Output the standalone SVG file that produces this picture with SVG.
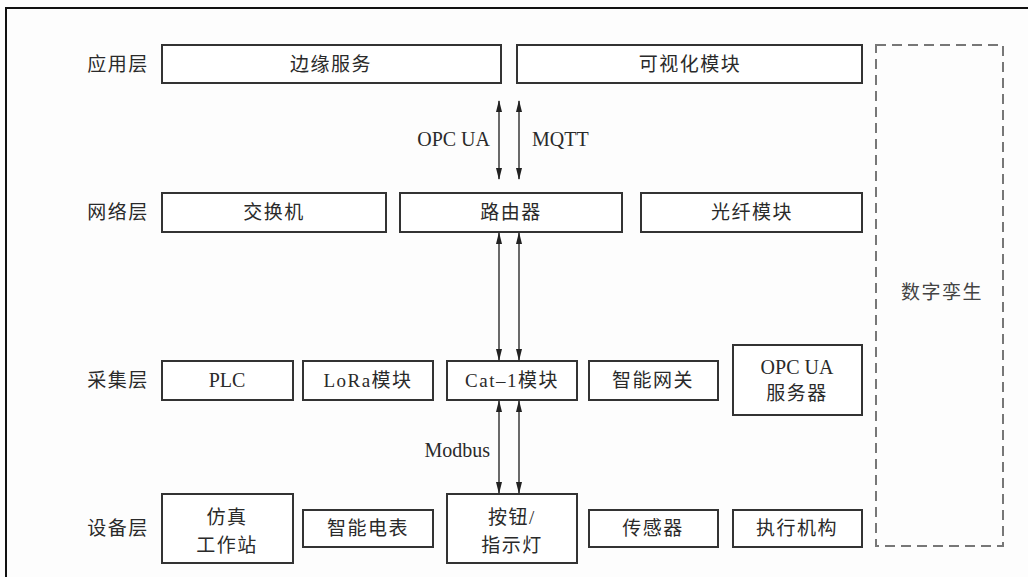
<svg xmlns="http://www.w3.org/2000/svg" width="1028" height="577" viewBox="0 0 1028 577">
  <defs>
    <style>
      .bg { fill: #fdfdfd; }
      .frame { fill: none; stroke: #111; stroke-width: 2; }
      .box { fill: #ffffff; stroke: #333; stroke-width: 2; }
      .dash { fill: none; stroke: #777; stroke-width: 2; stroke-dasharray: 10 6; }
      .t { font-family: "Liberation Serif", "Noto Sans CJK SC", serif; font-size: 19px; fill: #2a2a2a; text-anchor: middle; dominant-baseline: central; letter-spacing: 1.5px; }
      .lat { font-family: "Liberation Serif", "Noto Sans CJK SC", serif; font-size: 20px; fill: #2a2a2a; dominant-baseline: central; }
      .conn { stroke: #444; stroke-width: 1.6; fill: none; marker-start: url(#ah); marker-end: url(#ah); }
    </style>
    <marker id="ah" viewBox="0 0 12 6" refX="11" refY="3" markerWidth="12" markerHeight="6" markerUnits="userSpaceOnUse" orient="auto-start-reverse">
      <path d="M0,0 L12,3 L0,6 Z" fill="#222"/>
    </marker>
  </defs>

  <rect class="bg" x="0" y="0" width="1028" height="577"/>
  <rect class="frame" x="6" y="8" width="1040" height="600"/>

  <g id="layer-labels">
    <text class="t" x="118" y="64">应用层</text>
    <text class="t" x="118" y="212">网络层</text>
    <text class="t" x="118" y="380">采集层</text>
    <text class="t" x="118" y="528">设备层</text>
  </g>

  <g id="edge-service"><rect class="box" x="162" y="45" width="339" height="38"/><text class="t" x="331" y="64">边缘服务</text></g>
  <g id="visual-module"><rect class="box" x="517" y="45" width="345" height="38"/><text class="t" x="690" y="64">可视化模块</text></g>

  <g id="switch"><rect class="box" x="162" y="193" width="224" height="39"/><text class="t" x="274" y="212">交换机</text></g>
  <g id="router"><rect class="box" x="400" y="193" width="222" height="39"/><text class="t" x="511" y="212">路由器</text></g>
  <g id="fiber-module"><rect class="box" x="641" y="193" width="221" height="39"/><text class="t" x="752" y="212">光纤模块</text></g>

  <g id="plc"><rect class="box" x="162" y="361" width="131" height="39"/><text class="lat" x="227" y="380" text-anchor="middle">PLC</text></g>
  <g id="lora"><rect class="box" x="303" y="361" width="130" height="39"/><text class="t" x="368" y="380" letter-spacing="0">LoRa模块</text></g>
  <g id="cat1"><rect class="box" x="447" y="361" width="130" height="39"/><text class="t" x="512" y="380" letter-spacing="0">Cat–1模块</text></g>
  <g id="gateway"><rect class="box" x="589" y="361" width="129" height="39"/><text class="t" x="653" y="380">智能网关</text></g>
  <g id="opcua-server"><rect class="box" x="733" y="345" width="129" height="70"/><text class="lat" x="797" y="367" text-anchor="middle">OPC UA</text><text class="t" x="797" y="393">服务器</text></g>

  <g id="sim-station"><rect class="box" x="162" y="494" width="131" height="69"/><text class="t" x="227" y="517">仿真</text><text class="t" x="227" y="545">工作站</text></g>
  <g id="smart-meter"><rect class="box" x="303" y="510" width="130" height="37"/><text class="t" x="368" y="528">智能电表</text></g>
  <g id="button-light"><rect class="box" x="447" y="494" width="130" height="69"/><text class="t" x="512" y="517">按钮/</text><text class="t" x="512" y="545">指示灯</text></g>
  <g id="sensor"><rect class="box" x="589" y="510" width="129" height="37"/><text class="t" x="653" y="528">传感器</text></g>
  <g id="actuator"><rect class="box" x="733" y="510" width="129" height="37"/><text class="t" x="797" y="528">执行机构</text></g>

  <g id="digital-twin"><rect class="dash" x="876" y="45" width="127" height="501"/><text class="t" x="942" y="292" style="fill:#444">数字孪生</text></g>

  <g id="connectors">
    <line class="conn" x1="499" y1="101" x2="499" y2="179"/>
    <line class="conn" x1="519" y1="101" x2="519" y2="179"/>
    <line class="conn" x1="499" y1="233" x2="499" y2="360"/>
    <line class="conn" x1="519" y1="233" x2="519" y2="360"/>
    <line class="conn" x1="499" y1="401" x2="499" y2="493"/>
    <line class="conn" x1="519" y1="401" x2="519" y2="493"/>
    <text class="lat" x="490" y="139" text-anchor="end">OPC UA</text>
    <text class="lat" x="532" y="139" text-anchor="start">MQTT</text>
    <text class="lat" x="490" y="450" text-anchor="end">Modbus</text>
  </g>
</svg>
